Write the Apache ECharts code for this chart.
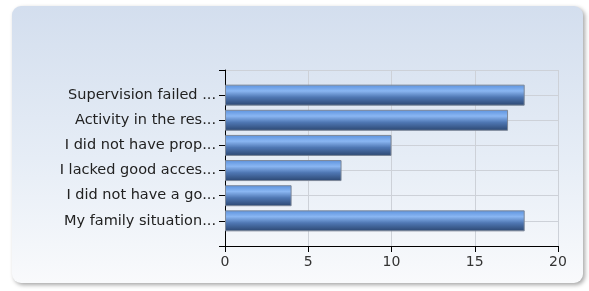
<!DOCTYPE html>
<html>
<head>
<meta charset="utf-8">
<style>
  html, body { margin: 0; padding: 0; background: #ffffff; }
  #chart { width: 589px; height: 291px; }
</style>
<script src="https://cdn.jsdelivr.net/npm/echarts@6/dist/echarts.min.js"></script>
</head>
<body>
<div id="chart"></div>
<script>
  // categories, top to bottom (blank ends pad the axis like the original)
  const categories = [
    '',
    'Supervision failed ...',
    'Activity in the res...',
    'I did not have prop...',
    'I lacked good acces...',
    'I did not have a go...',
    'My family situation...',
    ''
  ]
  const counts = [null, 18, 17, 10, 7, 4, 18, null]
  const valueTicks = [0, 5, 10, 15, 20]

  const chart = echarts.init(document.getElementById('chart'), null, { renderer: 'canvas' })

  chart.setOption({
    animation: false,
    backgroundColor: '#ffffff',
    textStyle: { fontFamily: 'DejaVu Sans' },
    graphic: [
      {
        type: 'rect',
        z: -10,
        shape: { x: 12, y: 6, width: 571, height: 277, r: 9 },
        style: {
          fill: new echarts.graphic.LinearGradient(0, 0, 0, 1, [
            { offset: 0, color: '#d3deee' },
            { offset: 0.55, color: '#e6edf6' },
            { offset: 1, color: '#f9fafc' }
          ]),
          shadowBlur: 4,
          shadowOffsetX: 2,
          shadowOffsetY: 2,
          shadowColor: 'rgba(0,0,0,0.35)'
        }
      }
    ],
    grid: {
      left: 225,
      right: 31,
      top: 70,
      bottom: 45,
      containLabel: false
    },
    xAxis: {
      type: 'value',
      min: valueTicks[0],
      max: valueTicks[valueTicks.length - 1],
      interval: 5,
      axisLine: { show: true, lineStyle: { color: '#000000', width: 1 } },
      axisTick: { show: true, length: 6, lineStyle: { color: '#000000' } },
      axisLabel: { color: '#333333', fontSize: 14, margin: 9 },
      splitLine: { show: true, lineStyle: { color: '#cdd1d8', width: 1 } }
    },
    yAxis: {
      type: 'category',
      data: categories,
      inverse: true,
      boundaryGap: false,
      axisLine: { show: true, lineStyle: { color: '#000000', width: 1 } },
      axisTick: { show: true, length: 6, lineStyle: { color: '#000000' } },
      axisLabel: { color: '#222222', fontSize: 14.5, margin: 9 },
      splitLine: { show: true, lineStyle: { color: '#cdd1d8', width: 1 } }
    },
    series: [
      {
        type: 'bar',
        data: counts,
        barWidth: 21,
        itemStyle: {
          color: new echarts.graphic.LinearGradient(0, 0, 0, 1, [
            { offset: 0, color: '#5b92de' },
            { offset: 0.3, color: '#8ab6f2' },
            { offset: 0.6, color: '#4f77b3' },
            { offset: 1, color: '#2b4670' }
          ]),
          borderColor: '#7c8798',
          borderWidth: 1
        }
      }
    ]
  })
</script>
</body>
</html>
